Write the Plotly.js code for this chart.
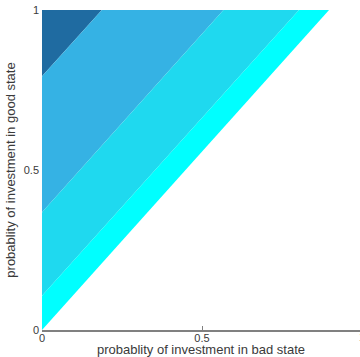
<!DOCTYPE html>
<html>
<head>
<meta charset="utf-8">
<script src="https://cdn.plot.ly/plotly-3.0.1.min.js"></script>
<style>html,body{margin:0;padding:0;background:#fff;}#chart{width:360px;height:357px;}</style>
</head>
<body>
<div id="chart"></div>
<script>
// Boundary lines between filled bands: where each meets x=0 and where each meets y=1
var boundaryLeftY = [0.793, 0.368, 0.107, 0.0];
var boundaryTopX = [0.187, 0.567, 0.803, 0.897];
var bandColors = ['#1f6ba1', '#35b2e4', '#1fd9ef', '#00ffff'];
var xTickVals = [0, 0.5];
var xTickText = ['0', '0.5'];
var yTickVals = [0, 0.5, 1];
var yTickText = ['0', '0.5', '1'];
var xTitle = 'probablity of investment in bad state';
var yTitle = 'probablity of investment in good state';

var traces = [];
for (var i = 0; i < boundaryLeftY.length; i++) {
  var xs, ys;
  if (i === 0) {
    xs = [0, 0, boundaryTopX[0], 0];
    ys = [boundaryLeftY[0], 1, 1, boundaryLeftY[0]];
  } else {
    xs = [0, 0, boundaryTopX[i - 1], boundaryTopX[i], 0];
    ys = [boundaryLeftY[i], boundaryLeftY[i - 1], 1, 1, boundaryLeftY[i]];
  }
  traces.push({
    type: 'scatter', mode: 'lines', x: xs, y: ys,
    fill: 'toself', fillcolor: bandColors[i],
    line: {width: 0, color: bandColors[i]},
    hoverinfo: 'skip', showlegend: false
  });
}

var tickFont = {family: 'Liberation Sans, Arial, sans-serif', size: 11, color: '#3a3a3a'};
var titleFont = {family: 'Liberation Sans, Arial, sans-serif', size: 13, color: '#3a3a3a'};
var layout = {
  width: 360, height: 357,
  margin: {l: 42, r: 0, t: 10, b: 27, pad: 0},
  paper_bgcolor: '#ffffff', plot_bgcolor: '#ffffff',
  font: tickFont,
  showlegend: false,
  xaxis: {
    range: [0, 318 / 320], tickvals: xTickVals, ticktext: xTickText,
    ticks: 'inside', ticklen: 4, tickcolor: '#808080', tickwidth: 1,
    ticklabelstandoff: -3,
    showline: true, linecolor: '#808080', linewidth: 2,
    showgrid: false, zeroline: false, layer: 'below traces',
    tickfont: tickFont,
    title: {text: xTitle, font: titleFont, standoff: 1}
  },
  yaxis: {
    range: [0, 1], tickvals: yTickVals, ticktext: yTickText,
    ticks: 'inside', ticklen: 4, tickcolor: '#b0b0b0', tickwidth: 1,
    ticklabelstandoff: 2,
    showline: false, showgrid: false, zeroline: false, layer: 'below traces',
    tickfont: tickFont,
    title: {text: yTitle, font: titleFont, standoff: 5}
  },
  annotations: [{
    xref: 'paper', yref: 'paper', x: 320 / 318, y: 0, yshift: 1,
    text: '1', showarrow: false, xanchor: 'center', yanchor: 'top', font: tickFont
  }]
};
Plotly.newPlot('chart', traces, layout, {staticPlot: true, displayModeBar: false});
</script>
</body>
</html>
